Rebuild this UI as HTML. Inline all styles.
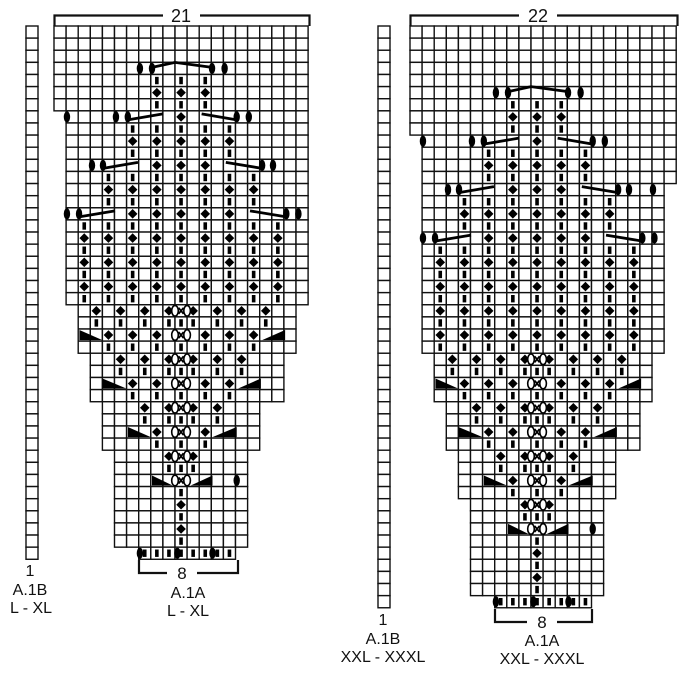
<!DOCTYPE html>
<html><head><meta charset="utf-8"><style>
html,body{margin:0;padding:0;background:#fff;}
svg{display:block;}
text{font-family:"Liberation Sans",sans-serif;fill:#111;}
</style></head><body>
<svg id="s" width="690" height="673" viewBox="0 0 690 673" xmlns="http://www.w3.org/2000/svg">
<g id="g"></g>
<path d="M54.5 26V15.5H163M200 15.5H309.5V26" fill="none" stroke="#111" stroke-width="2.2"/>
<text x="181" y="22" font-size="18" text-anchor="middle">21</text>
<path d="M410.5 26V15.5H519M557 15.5H677.5V26" fill="none" stroke="#111" stroke-width="2.2"/>
<text x="538" y="22" font-size="18" text-anchor="middle">22</text>
<path d="M139 560V573H167M197 573H238V560" fill="none" stroke="#111" stroke-width="2.2"/>
<text x="182" y="579" font-size="17" text-anchor="middle">8</text>
<path d="M495 609V622H527M557 622H592V609" fill="none" stroke="#111" stroke-width="2.2"/>
<text x="542" y="628" font-size="17" text-anchor="middle">8</text>
<text x="30" y="576" font-size="16" text-anchor="middle">1</text>
<text x="30" y="595" font-size="16" text-anchor="middle">A.1B</text>
<text x="31" y="613" font-size="16" text-anchor="middle">L - XL</text>
<text x="188" y="598" font-size="16" text-anchor="middle">A.1A</text>
<text x="188" y="616" font-size="16" text-anchor="middle">L - XL</text>
<text x="383" y="625" font-size="16" text-anchor="middle">1</text>
<text x="383" y="644" font-size="16" text-anchor="middle">A.1B</text>
<text x="383" y="662" font-size="16" text-anchor="middle">XXL - XXXL</text>
<text x="542" y="646" font-size="16" text-anchor="middle">A.1A</text>
<text x="542" y="664" font-size="16" text-anchor="middle">XXL - XXXL</text>
</svg>
<script>
(function(){
var W=12.1,H=12.12,Y0=26;
var g=document.getElementById('g'),out=[];
function cy(r){return Y0+H*(r+0.5);}
function grid(x0,spans){
  spans.forEach(function(s){
    for(var r=s[0];r<=s[1];r++)for(var c=s[2];c<=s[3];c++)
      out.push('<rect x="'+(x0+c*W).toFixed(2)+'" y="'+(Y0+r*H).toFixed(2)+'" width="'+W+'" height="'+H+'" fill="#fff" stroke="#111" stroke-width="1.4"/>');
  });
}
function strip(x,n){for(var r=0;r<n;r++)out.push('<rect x="'+x+'" y="'+(Y0+r*H).toFixed(2)+'" width="12" height="'+H+'" fill="#fff" stroke="#111" stroke-width="1.4"/>');}
function X(x0,u){return x0+u*W;}
function dash(x0,r,u){out.push('<rect x="'+(X(x0,u)-1.8).toFixed(2)+'" y="'+(cy(r)-3.7).toFixed(2)+'" width="3.6" height="7.4" fill="#000"/>');}
function dia(x0,r,u){var x=X(x0,u),y=cy(r);out.push('<polygon points="'+x+','+(y-4.8)+' '+(x+4.8)+','+y+' '+x+','+(y+4.8)+' '+(x-4.8)+','+y+'" fill="#000"/>');}
function oval(x0,r,u){out.push('<ellipse cx="'+X(x0,u).toFixed(2)+'" cy="'+cy(r).toFixed(2)+'" rx="3.2" ry="5.6" fill="#000"/>');}
function oxo(x0,r){var y=cy(r);[10,11].forEach(function(u){out.push('<ellipse cx="'+X(x0,u).toFixed(2)+'" cy="'+y.toFixed(2)+'" rx="3.3" ry="5.3" fill="#fff" stroke="#000" stroke-width="1.6"/>');});
  var x=X(x0,10.5);out.push('<path d="M'+(x-2.5)+' '+(y-3)+'L'+(x+2.5)+' '+(y+3)+'M'+(x+2.5)+' '+(y-3)+'L'+(x-2.5)+' '+(y+3)+'" stroke="#000" stroke-width="1.8"/>');}
function cluster(x0,r){dia(x0,r,9.5);dia(x0,r,11.5);oxo(x0,r);}
function line(x0,r,u1,d1,u2,d2){out.push('<line x1="'+X(x0,u1)+'" y1="'+(cy(r)+d1)+'" x2="'+X(x0,u2)+'" y2="'+(cy(r)+d2)+'" stroke="#000" stroke-width="2.8"/>');}
function triL(x0,r,u1,u2){var t=Y0+r*H+1,b=Y0+(r+1)*H-1;out.push('<polygon points="'+X(x0,u1)+','+t+' '+X(x0,u1)+','+b+' '+X(x0,u2)+','+b+'" fill="#000"/>');}
function triR(x0,r,u1,u2){var t=Y0+r*H+1,b=Y0+(r+1)*H-1;out.push('<polygon points="'+X(x0,u2)+','+t+' '+X(x0,u2)+','+b+' '+X(x0,u1)+','+b+'" fill="#000"/>');}
function top(x0,o){
  var r=3+o;[7.1,8.1,13.06,14.1].forEach(function(u){oval(x0,r,u);});
  out.push('<polyline points="'+X(x0,8.1)+','+(cy(r)-1)+' '+X(x0,10)+','+(cy(r)-6)+' '+X(x0,13.06)+','+(cy(r)-1)+'" fill="none" stroke="#000" stroke-width="2.8"/>');
  for(var k=4;k<=6;k++)[8,10,12].forEach(function(c){(k==5?dia:dash)(x0,k+o,c+0.5);});
  r=7+o;[1.07,5.12,6.1,15.1,16.1].forEach(function(u){oval(x0,r,u);});
  line(x0,r,6.1,3,9,-3);dia(x0,r,10.5);line(x0,r,12.2,-3,15.1,3);
  for(k=8;k<=10;k++)[6,8,10,12,14].forEach(function(c){(k==9?dia:dash)(x0,k+o,c+0.5);});
  r=11+o;[3.14,4.05,17.2,18.1].forEach(function(u){oval(x0,r,u);});
  line(x0,r,4.05,3,6.94,-3);[8,10,12].forEach(function(c){dia(x0,r,c+0.5);});line(x0,r,14.2,-3,17.2,3);
  for(k=12;k<=14;k++)[4,6,8,10,12,14,16].forEach(function(c){(k==13?dia:dash)(x0,k+o,c+0.5);});
  r=15+o;[1.07,2.07,19.2,20.2].forEach(function(u){oval(x0,r,u);});
  line(x0,r,2.07,3,5.04,-3);[6,8,10,12,14].forEach(function(c){dia(x0,r,c+0.5);});line(x0,r,16.2,-3,19.2,3);
}
function mid(x0,r0,r1){for(var r=r0;r<=r1;r++)for(var c=2;c<=18;c+=2)((r-r0)%2==1?dia:dash)(x0,r,c+0.5);}
function bot(x0,o){
  function d(r,cs){cs.forEach(function(c){dash(x0,r+o,c+0.5);});}
  function D(r,cs){cs.forEach(function(c){dia(x0,r+o,c+0.5);});}
  D(23,[3,5,7,13,15,17]);cluster(x0,23+o);d(24,[3,5,7,9,10,11,13,15,17]);
  triL(x0,25+o,2.1,4);D(25,[4,6,8,12,14,16]);oxo(x0,25+o);triR(x0,25+o,17.2,19.1);d(26,[4,6,8,10,12,14,16]);
  D(27,[5,7,13,15]);cluster(x0,27+o);d(28,[5,7,9,10,11,13,15]);
  triL(x0,29+o,4,6);D(29,[6,8,12,14]);oxo(x0,29+o);triR(x0,29+o,15.2,17.1);d(30,[6,8,10,12,14]);
  D(31,[7,13]);cluster(x0,31+o);d(32,[7,9,10,11,13]);
  triL(x0,33+o,6.1,8);D(33,[8,12]);oxo(x0,33+o);triR(x0,33+o,13.1,15.1);d(34,[8,10,12]);
  cluster(x0,35+o);d(36,[9,10,11]);
  triL(x0,37+o,8.1,9.8);oxo(x0,37+o);triR(x0,37+o,11.3,13.1);oval(x0,37+o,15.1);
  d(38,[10]);D(39,[10]);d(40,[10]);D(41,[10]);d(42,[10]);
  d(43,[7,8,9,10,11,12,13,14]);[7.1,10.2,13.1].forEach(function(u){oval(x0,43+o,u);});
}
grid(54,[[0,6,0,20],[7,22,1,20],[23,26,2,19],[27,30,3,18],[31,34,4,16],[35,42,5,15],[43,43,7,14]]);
strip(26,44);
top(54,0);mid(54,16,22);bot(54,0);
grid(410,[[0,8,0,21],[9,12,1,21],[13,26,1,20],[27,30,2,19],[31,34,3,18],[35,38,4,16],[39,46,5,15],[47,47,7,14]]);
strip(378,48);
top(410,2);oval(410,13,20.08);mid(410,18,26);bot(410,4);
g.innerHTML=out.join('');
})();
</script>
</body></html>
